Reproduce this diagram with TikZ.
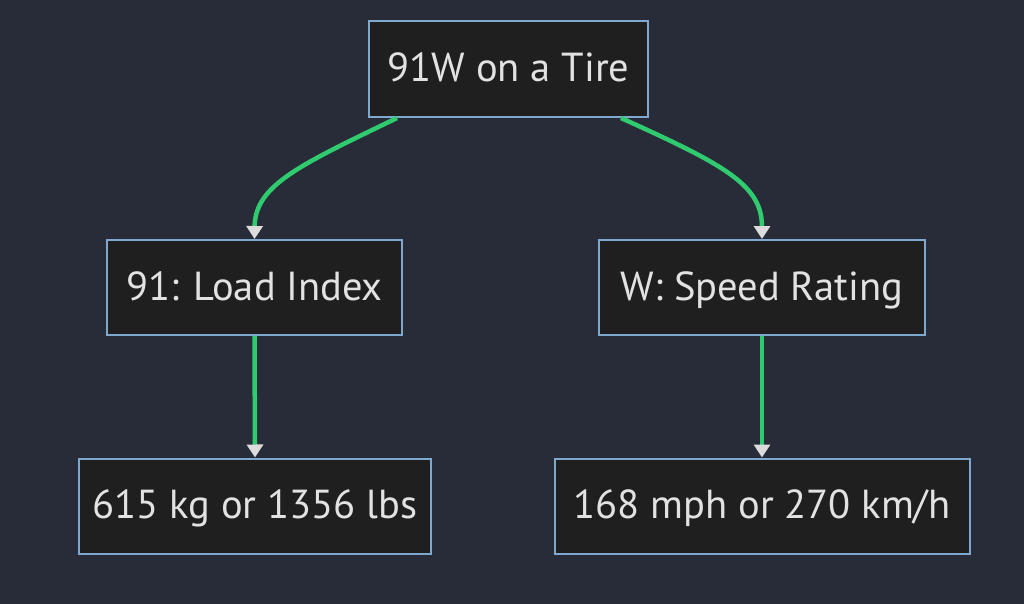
\documentclass[tikz,border=0pt]{standalone}
\usepackage{fontspec}
\setmainfont{PT Sans}
\usetikzlibrary{arrows.meta}
\definecolor{bgc}{HTML}{282C38}
\definecolor{boxc}{HTML}{1F1F1F}
\definecolor{bordc}{HTML}{7FA8CF}
\definecolor{edgec}{HTML}{2FCB6E}
\definecolor{txtc}{HTML}{E2E2E2}
\definecolor{tipc}{HTML}{DCDCDC}
\tikzset{
  nodebox/.style={draw=bordc, fill=boxc, line width=2pt, text=txtc, inner sep=0pt,
    text height=30pt, text depth=5pt, font=\fontsize{40.5}{44}\selectfont},
  link/.style={draw=edgec, line width=4.5pt, -{Triangle[length=13pt,width=16pt,color=tipc]}},
}
\begin{document}
\begin{tikzpicture}[x=1pt,y=-1pt]
\fill[bgc] (0,0) rectangle (1024,604);
\useasboundingbox (0,0) rectangle (1024,604);
\node[nodebox, minimum width=279pt, minimum height=96pt] (top) at (508.5,69) {91W on a Tire};
\node[nodebox, minimum width=295pt, minimum height=95pt] (load) at (254.5,287.5) {91: Load Index};
\node[nodebox, minimum width=326pt, minimum height=95pt] (speed) at (762,287.5) {W: Speed Rating};
\node[nodebox, minimum width=352pt, minimum height=95pt] (kg) at (255,506) {615 kg or 1356 lbs};
\node[nodebox, minimum width=415pt, minimum height=95pt] (mph) at (762,506) {168 mph or 270 km/h};
\coordinate (tl) at ([xshift=29pt]top.south west);
\coordinate (tr) at ([xshift=-28pt]top.south east);
\draw[link] (tl) .. controls (300,165) and (255,185) .. (load.north);
\draw[link] (tr) .. controls (725,165) and (762,185) .. (speed.north);
\draw[link] (load.south) -- (kg.north);
\draw[link] (speed.south) -- (mph.north);
\end{tikzpicture}
\end{document}
